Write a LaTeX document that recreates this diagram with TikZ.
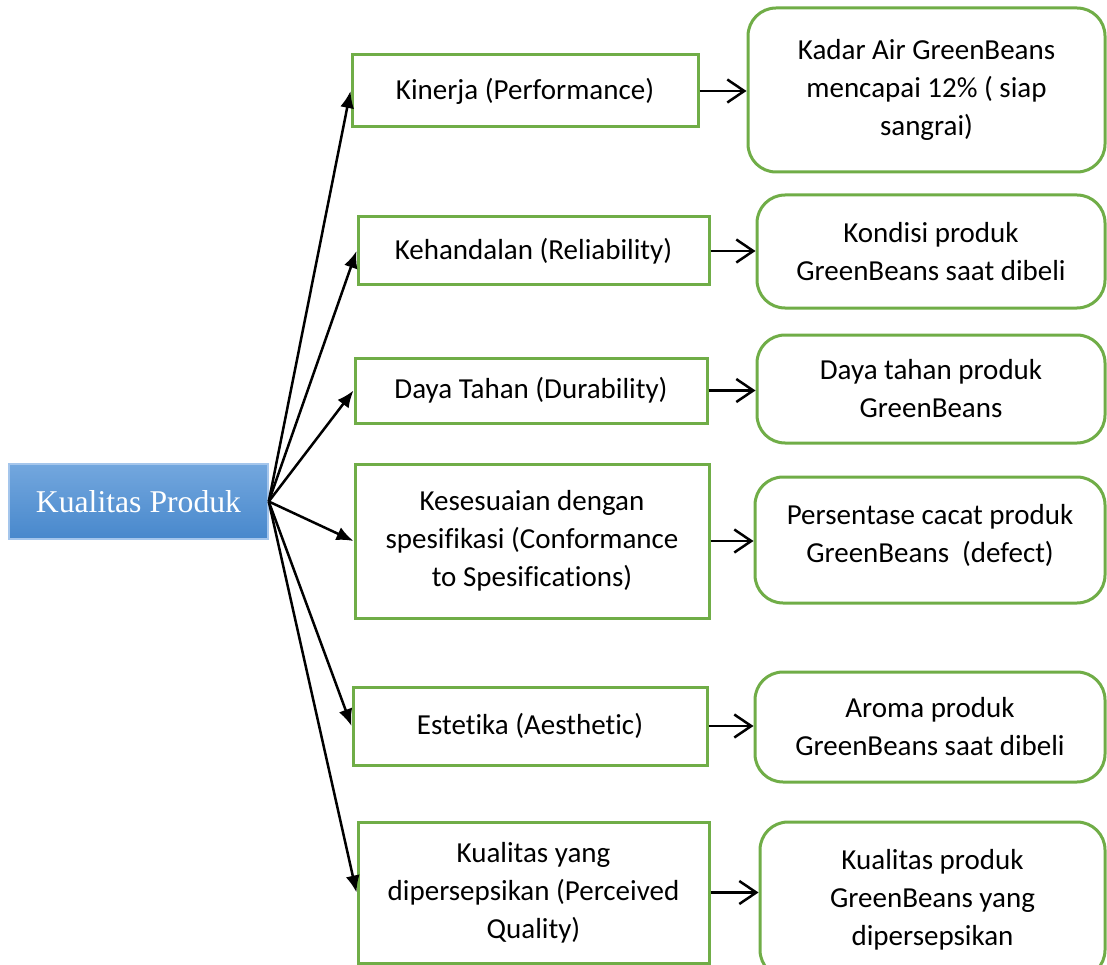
\documentclass[tikz,border=0pt]{standalone}
\usepackage{fontspec}
\setmainfont{Carlito}[Ligatures=NoCommon]
\newfontfamily\serifkp{Liberation Serif}
\usetikzlibrary{arrows.meta}
\definecolor{boxgreen}{RGB}{112,173,71}
\definecolor{kptop}{RGB}{115,167,222}
\definecolor{kpbot}{RGB}{72,136,204}
\definecolor{kpborder}{RGB}{165,198,236}
\tikzset{
  midbox/.style={draw=boxgreen, line width=3pt, fill=white, align=center,
    inner sep=0pt, font=\fontsize{29}{38}\selectfont},
  resbox/.style={draw=boxgreen, line width=3pt, fill=white, align=center,
    rounded corners=28pt, inner sep=0pt, font=\fontsize{29}{38}\selectfont},
  kpbox/.style={draw=kpborder, line width=1.5pt, top color=kptop, bottom color=kpbot,
    text=white, inner sep=0pt, font=\serifkp\fontsize{31.7}{38}\selectfont},
  fanarrow/.style={line width=2.5pt, -{Latex[length=17pt,width=14pt]}},
  outarrow/.style={line width=2.5pt, -{Straight Barb[length=17pt,width=23pt]}}
}
\begin{document}
\begin{tikzpicture}[x=1pt,y=-1pt]
\useasboundingbox (0,0) rectangle (1107,965);

\node[kpbox, minimum width=259pt, minimum height=75pt] (kp) at (138.5,501.5) {Kualitas Produk};

\node[midbox, minimum width=346pt, minimum height=72pt] (m1) at (525,91) {Kinerja (Performance)};
\node[midbox, minimum width=351pt, minimum height=68pt] (m2) at (533.5,251) {Kehandalan (Reliability)};
\node[midbox, minimum width=352pt, minimum height=65pt] (m3) at (531,390.5) {Daya Tahan (Durability)};
\node[midbox, minimum width=354pt, minimum height=154pt] (m4) at (532,541) {Kesesuaian dengan\\spesifikasi (Conformance\\to Spesifications)};
\node[midbox, minimum width=354pt, minimum height=78pt] (m5) at (530,726) {Estetika (Aesthetic)};
\node[midbox, minimum width=351pt, minimum height=141pt] (m6) at (533.5,892.5) {Kualitas yang\\dipersepsikan (Perceived\\Quality)};

\node[resbox, minimum width=357pt, minimum height=164pt] (r1) at (926.5,90) {Kadar Air GreenBeans\\mencapai 12\% ( siap\\sangrai)};
\node[resbox, minimum width=348pt, minimum height=113pt] (r2) at (931,251.5) {Kondisi produk\\GreenBeans saat dibeli};
\node[resbox, minimum width=348pt, minimum height=108pt] (r3) at (931,389) {Daya tahan produk\\GreenBeans};
\node[resbox, minimum width=350pt, minimum height=126pt] (r4) at (930,540) {Persentase cacat produk\\GreenBeans\ \ (defect)\\[-24pt]\mbox{}};
\node[resbox, minimum width=350pt, minimum height=110pt] (r5) at (930,727) {Aroma produk\\GreenBeans saat dibeli};
\node[resbox, minimum width=345pt, minimum height=156pt] (r6) at (932.5,900) {Kualitas produk\\GreenBeans yang\\dipersepsikan};

\foreach \m in {m1,m2,m3,m4,m5,m6}
  \draw[fanarrow] (kp.east) -- (\m.west);

\draw[outarrow] (m1.east) -- (m1.east -| r1.west);
\draw[outarrow] (m2.east) -- (m2.east -| r2.west);
\draw[outarrow] (m3.east) -- (m3.east -| r3.west);
\draw[outarrow] (m4.east) -- (m4.east -| r4.west);
\draw[outarrow] (m5.east) -- (m5.east -| r5.west);
\draw[outarrow] (m6.east) -- (m6.east -| r6.west);
\end{tikzpicture}
\end{document}
